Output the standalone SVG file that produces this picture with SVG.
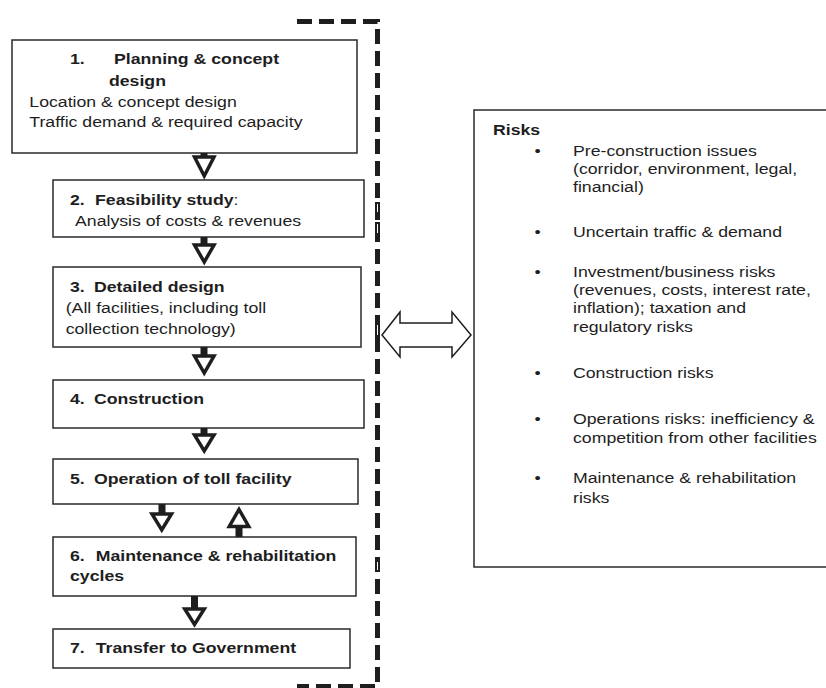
<svg xmlns="http://www.w3.org/2000/svg" width="826" height="688" viewBox="0 0 826 688">
<style>
.box{fill:#fff;stroke:#2a2a2a;stroke-width:1.5}
.t{font-family:"Liberation Sans",Arial,sans-serif;font-size:15px;fill:#1e1e1e}
.b{font-weight:bold}
.tri{fill:#fff;stroke:#1e1e1e;stroke-width:3.5;stroke-linejoin:miter}
.stem{fill:#1e1e1e}
.dash{fill:none;stroke:#1e1e1e;stroke-width:5;stroke-dasharray:15 7}
.brk{fill:#fff;stroke:#1e1e1e;stroke-width:2}
</style>
<rect width="826" height="688" fill="#fff"/>
<g id="boundary">
<path class="dash" d="M297,21.5 H377.5 V686.5 H297"/>
<rect class="brk" x="376" y="203" width="3" height="10"/>
<rect class="brk" x="376" y="223" width="3" height="11"/>
<rect class="brk" x="376" y="324" width="3" height="12"/>
<rect class="brk" x="376" y="561" width="3" height="10"/>
</g>
<g id="n1">
<rect class="box" x="12" y="40" width="345" height="113"/>
<g transform="matrix(1.18,0,0,1,0,0)">
<text class="t b" y="64"><tspan x="59.32">1.</tspan><tspan x="96.61">Planning &amp; concept</tspan></text>
<text class="t b" x="92.37" y="86">design</text>
<text class="t" x="24.83" y="107">Location &amp; concept design</text>
<text class="t" x="24.83" y="127">Traffic demand &amp; required capacity</text>
</g>
</g>
<g id="n2">
<rect class="box" x="53" y="180" width="311" height="57"/>
<g transform="matrix(1.18,0,0,1,0,0)">
<text class="t b" y="205"><tspan x="59.32">2.</tspan><tspan x="80.51">Feasibility study</tspan><tspan font-weight="normal">:</tspan></text>
<text class="t" x="63.56" y="226">Analysis of costs &amp; revenues</text>
</g>
</g>
<g id="n3">
<rect class="box" x="53" y="267" width="308" height="80"/>
<g transform="matrix(1.18,0,0,1,0,0)">
<text class="t b" y="292"><tspan x="59.32">3.</tspan><tspan x="79.66">Detailed design</tspan></text>
<text class="t" x="55.68" y="313">(All facilities, including toll</text>
<text class="t" x="55.68" y="334">collection technology)</text>
</g>
</g>
<g id="n4">
<rect class="box" x="53" y="380" width="311" height="48"/>
<g transform="matrix(1.18,0,0,1,0,0)">
<text class="t b" y="404"><tspan x="59.32">4.</tspan><tspan x="79.66">Construction</tspan></text>
</g>
</g>
<g id="n5">
<rect class="box" x="53" y="459" width="305" height="45"/>
<g transform="matrix(1.18,0,0,1,0,0)">
<text class="t b" y="484"><tspan x="59.32">5.</tspan><tspan x="79.66">Operation of toll facility</tspan></text>
</g>
</g>
<g id="n6">
<rect class="box" x="53" y="537" width="303" height="59"/>
<g transform="matrix(1.18,0,0,1,0,0)">
<text class="t b" y="561"><tspan x="59.32">6.</tspan><tspan x="81.1">Maintenance &amp; rehabilitation</tspan></text>
<text class="t b" x="59.32" y="581">cycles</text>
</g>
</g>
<g id="n7">
<rect class="box" x="53" y="629" width="297" height="39"/>
<g transform="matrix(1.18,0,0,1,0,0)">
<text class="t b" y="653"><tspan x="59.32">7.</tspan><tspan x="81.1">Transfer to Government</tspan></text>
</g>
</g>
<g id="risks">
<rect class="box" x="474" y="110" width="360" height="457"/>
<g transform="matrix(1.18,0,0,1,0,0)">
<text class="t b" x="417.8" y="135">Risks</text>
<text class="t" x="453.05" y="156">•</text>
<text class="t" x="485.59" y="156">Pre-construction issues</text>
<text class="t" x="485.59" y="174">(corridor, environment, legal,</text>
<text class="t" x="485.59" y="192.5">financial)</text>
<text class="t" x="453.05" y="237">•</text>
<text class="t" x="485.59" y="237">Uncertain traffic &amp; demand</text>
<text class="t" x="453.05" y="277">•</text>
<text class="t" x="485.59" y="277">Investment/business risks</text>
<text class="t" x="485.59" y="295">(revenues, costs, interest rate,</text>
<text class="t" x="485.59" y="313.5">inflation); taxation and</text>
<text class="t" x="485.59" y="332">regulatory risks</text>
<text class="t" x="453.05" y="378">•</text>
<text class="t" x="485.59" y="378">Construction risks</text>
<text class="t" x="453.05" y="424">•</text>
<text class="t" x="485.59" y="424">Operations risks: inefficiency &amp;</text>
<text class="t" x="485.59" y="443">competition from other facilities</text>
<text class="t" x="453.05" y="483">•</text>
<text class="t" x="485.59" y="483">Maintenance &amp; rehabilitation</text>
<text class="t" x="485.59" y="503">risks</text>
</g>
</g>
<g id="connectors">
<rect class="stem" x="200.5" y="153" width="7" height="4"/>
<path class="tri" d="M194.5,157 H214 L204.25,176 Z"/>
<rect class="stem" x="200.5" y="237" width="7" height="8"/>
<path class="tri" d="M194.5,245 H214 L204.25,262 Z"/>
<rect class="stem" x="200.5" y="347" width="7" height="9"/>
<path class="tri" d="M194.5,356 H214 L204.25,373 Z"/>
<rect class="stem" x="200.5" y="428" width="7" height="7"/>
<path class="tri" d="M194.5,435 H214 L204.25,451 Z"/>
<rect class="stem" x="158.5" y="504" width="7" height="10"/>
<path class="tri" d="M152,514 H171.5 L161.75,530 Z"/>
<rect class="stem" x="235.5" y="526" width="7" height="11"/>
<path class="tri" d="M229.25,526.5 H248.75 L239,509.5 Z"/>
<rect class="stem" x="191" y="596" width="7" height="13"/>
<path class="tri" d="M184.75,609 H204.25 L194.5,624.5 Z"/>
<path fill="#fff" stroke="#1e1e1e" stroke-width="1.5" d="M382,335 L400,312 V323 H452 V312 L471,335 L452,357 V347 H400 V357 Z"/>
</g>
</svg>
